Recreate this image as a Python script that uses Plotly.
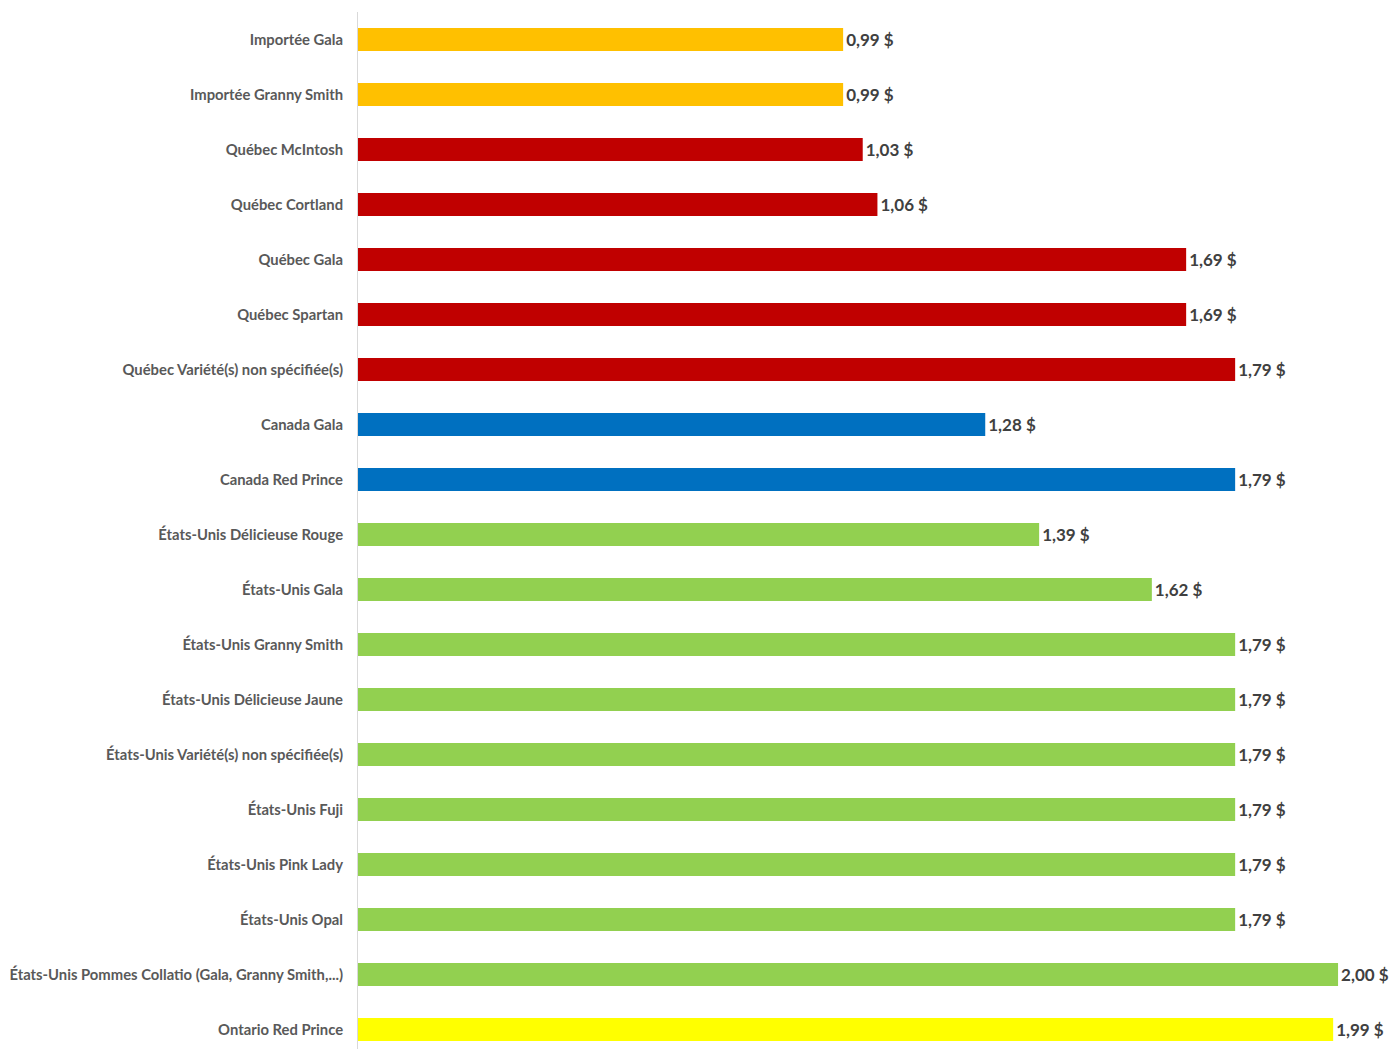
import plotly.graph_objects as go

categories = [
    "Importée Gala", "Importée Granny Smith", "Québec McIntosh", "Québec Cortland",
    "Québec Gala", "Québec Spartan", "Québec Variété(s) non spécifiée(s)",
    "Canada Gala", "Canada Red Prince", "États-Unis Délicieuse Rouge",
    "États-Unis Gala", "États-Unis Granny Smith", "États-Unis Délicieuse Jaune",
    "États-Unis Variété(s) non spécifiée(s)", "États-Unis Fuji", "États-Unis Pink Lady",
    "États-Unis Opal", "États-Unis Pommes Collatio (Gala, Granny Smith,...)",
    "Ontario Red Prince",
]
prices = [0.99, 0.99, 1.03, 1.06, 1.69, 1.69, 1.79, 1.28, 1.79, 1.39,
          1.62, 1.79, 1.79, 1.79, 1.79, 1.79, 1.79, 2.00, 1.99]
origins = ["Importée", "Importée", "Québec", "Québec", "Québec", "Québec", "Québec",
           "Canada", "Canada", "États-Unis", "États-Unis", "États-Unis", "États-Unis",
           "États-Unis", "États-Unis", "États-Unis", "États-Unis", "États-Unis", "Ontario"]
origin_colors = {"Importée": "#FFC000", "Québec": "#C00000", "Canada": "#0070C0",
                 "États-Unis": "#92D050", "Ontario": "#FFFF00"}

labels = [f"{v:.2f}".replace(".", ",") + " $" for v in prices]
colors = [origin_colors[o] for o in origins]

fig = go.Figure(go.Bar(
    x=prices, y=categories, orientation="h",
    marker=dict(color=colors, line=dict(width=0)),
    text=labels, textposition="outside", cliponaxis=False,
    textfont=dict(family="Lato", size=17, color="#404040", weight="bold"),
    width=0.42, hoverinfo="skip",
))

fig.update_layout(
    width=1390, height=1049,
    margin=dict(l=358, r=0, t=12, b=0),
    paper_bgcolor="white", plot_bgcolor="white",
    showlegend=False,
    font=dict(family="Lato"),
)
fig.update_xaxes(range=[0, 2.106], visible=False, showgrid=False, zeroline=False)
fig.update_yaxes(
    type="category", range=[18.355, -0.5],
    showgrid=False, zeroline=False,
    showline=True, linecolor="#D9D9D9", linewidth=1,
    ticks="", ticklabelstandoff=11,
    tickfont=dict(family="Lato", size=14.8, color="#595959", weight="bold"),
)

fig.write_html(
    "out.html",
    config={"displayModeBar": False},
    post_script="document.body.style.margin='0';document.body.style.overflow='hidden';",
)
